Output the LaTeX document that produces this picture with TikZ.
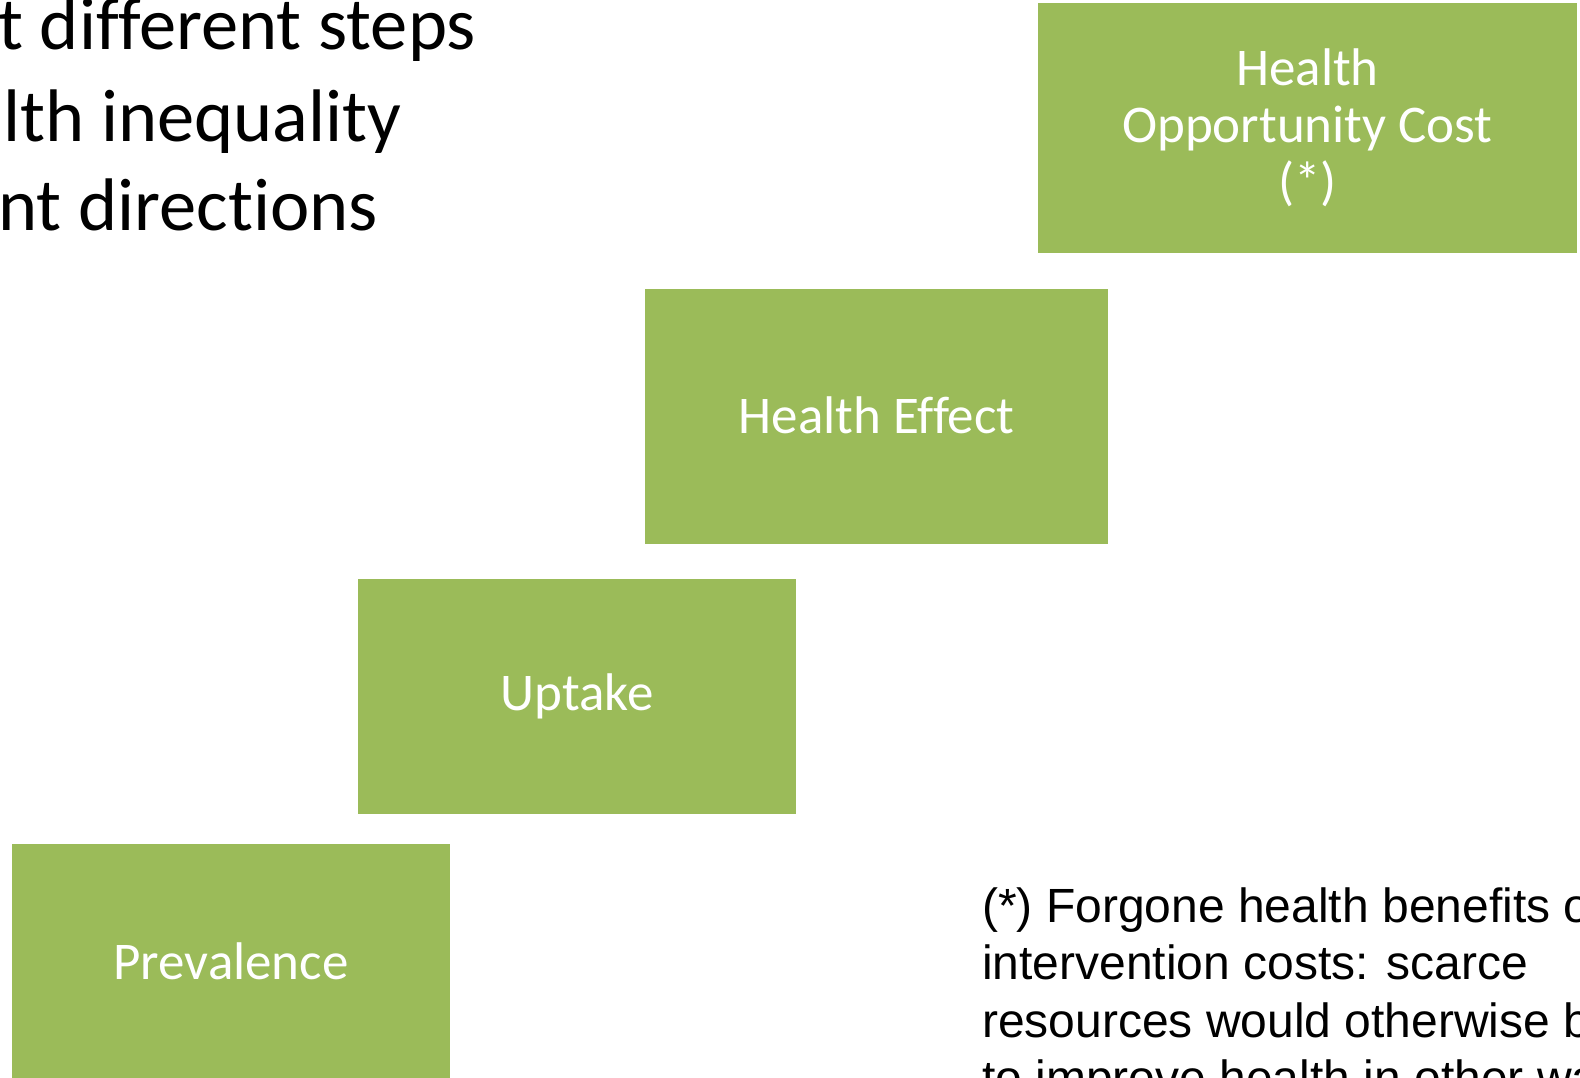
\documentclass[tikz,border=0pt]{standalone}
\usepackage{fontspec}
\setmainfont{Carlito}[Ligatures=NoCommon]
\newfontfamily\notefont{Liberation Sans}
\definecolor{stepgreen}{HTML}{9BBB59}
\tikzset{
  stepbox/.style={fill=stepgreen, draw=none, inner sep=0pt, text=white, align=center,
    font=\fontsize{53}{57}\selectfont},
  headline/.style={anchor=base west, inner sep=0pt, text=black,
    font=\fontsize{74.5}{88}\selectfont},
  noteline/.style={anchor=base west, inner sep=0pt, text=black,
    font=\notefont\fontsize{48}{57}\selectfont}
}
\begin{document}
\begin{tikzpicture}[x=1pt,y=-1pt]
\useasboundingbox (0,0) rectangle (1580,1077);
\clip (0,0) rectangle (1580,1077);
\fill[white] (0,0) rectangle (1580,1077);

% heading lines
\node[headline] (h1) at (-2,49) {t different steps};
\node[headline] (h2) at (3,141) {lth inequality};
\node[headline] (h3) at (-2,230) {nt directions};

% staircase of steps
\node[stepbox, minimum width=539pt, minimum height=250pt] (hoc) at (1307.5,128)
  {Health\\Opportunity Cost\\(*)};
\node[stepbox, minimum width=463pt, minimum height=255pt] (eff) at (876.5,416.5)
  {\raisebox{3pt}{Health Effect}};
\node[stepbox, minimum width=438pt, minimum height=235pt] (upt) at (577,696.5)
  {\raisebox{1pt}{Uptake}};
\node[stepbox, minimum width=438pt, minimum height=240pt] (prev) at (231,964)
  {\raisebox{5pt}{Prevalence}};

% footnote
\node[noteline] (n1) at (982,922) {(*) Forgone health benefits of};
\node[noteline] (n2) at (982,979) {intervention costs: scarce};
\node[noteline] (n3) at (982,1037) {resources would otherwise be};
\node[noteline] (n4) at (982,1094) {to improve health in other ways};
\end{tikzpicture}
\end{document}
